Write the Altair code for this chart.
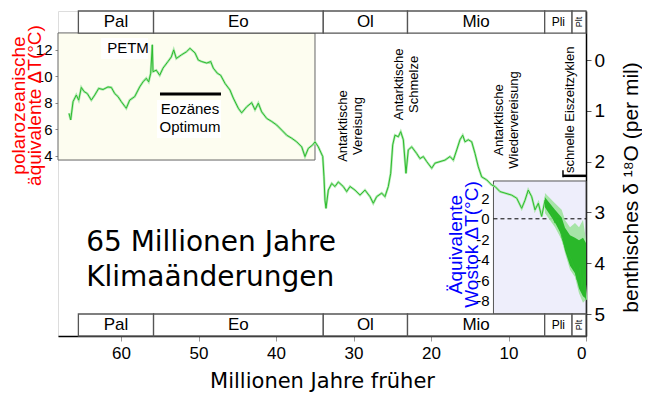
import altair as alt
import pandas as pd

# ---------------- data ----------------
# benthic d18O curve: age (Ma) and d18O (per mil)
ages = [66.71, 66.49, 66.19, 65.77, 65.46, 65.12, 64.77, 64.35, 63.83, 63.39,
        62.88, 62.32, 61.68, 61.25, 60.81, 60.39, 59.96, 59.52, 59.32, 58.88,
        58.23, 57.59, 57.16, 56.74, 56.43, 56.17, 55.96, 55.87, 55.45, 55.01,
        54.58, 53.94, 53.51, 53.20, 52.86, 52.22, 51.57, 51.10, 50.45, 50.03,
        49.59, 48.94, 48.43, 48.09, 47.57, 47.14, 46.58, 45.94, 45.51, 44.86,
        44.43, 43.78, 43.14, 42.71, 42.28, 41.85, 41.20, 40.55, 39.91, 39.26,
        38.62, 37.97, 37.33, 36.68, 36.26, 35.83, 35.26, 34.97, 34.54, 33.97,
        33.81, 33.68, 33.55, 33.25, 32.81, 32.39, 31.96, 31.32, 30.88, 30.45,
        29.81, 29.16, 28.52, 27.87, 27.45, 27.01, 26.36, 25.94, 25.51, 25.20,
        24.94, 24.65, 24.22, 23.91, 23.57, 23.23, 22.93, 22.49, 21.85, 21.42,
        20.99, 20.55, 19.91, 19.48, 18.84, 18.19, 17.55, 17.12, 16.68, 16.26,
        15.91, 15.61, 15.19, 14.75, 14.32, 13.90, 13.46, 12.81, 12.17, 11.74,
        11.10, 10.45, 9.59, 8.94, 8.30, 7.87, 7.45, 7.01, 6.58, 6.15,
        5.72, 5.29, 4.86, 4.43, 4.00, 3.57, 3.14, 2.71, 2.28, 1.85,
        1.42, 1.12, 0.77, 0.55, 0.26, 0.00]
d18o = [1.05, 1.18, 0.82, 0.69, 0.79, 0.54, 0.62, 0.66, 0.79, 0.69,
        0.56, 0.58, 0.53, 0.54, 0.66, 0.72, 0.82, 0.91, 0.95, 0.79,
        0.72, 0.53, 0.43, 0.36, 0.43, 0.26, -0.30, 0.23, 0.20, 0.30,
        0.16, 0.03, -0.06, -0.20, -0.03, -0.10, -0.16, -0.23, -0.14, 0.00,
        0.03, 0.06, 0.03, 0.16, 0.26, 0.30, 0.46, 0.59, 0.75, 0.95,
        1.04, 0.92, 0.84, 0.98, 0.85, 1.02, 1.15, 1.21, 1.28, 1.38,
        1.48, 1.54, 1.61, 1.71, 1.90, 1.74, 1.67, 1.61, 1.71, 1.90,
        2.30, 2.76, 2.92, 2.56, 2.43, 2.49, 2.40, 2.49, 2.59, 2.49,
        2.56, 2.66, 2.56, 2.69, 2.82, 2.69, 2.62, 2.69, 2.49, 2.23,
        1.67, 1.48, 1.51, 1.41, 1.57, 2.23, 1.77, 1.71, 1.84, 1.94,
        1.90, 2.00, 2.13, 2.03, 2.00, 1.97, 1.90, 1.97, 1.77, 1.57,
        1.48, 1.61, 1.57, 1.61, 1.84, 2.10, 2.30, 2.36, 2.46, 2.49,
        2.59, 2.62, 2.66, 2.72, 2.92, 2.76, 2.56, 2.69, 2.95, 2.82,
        3.08, 2.76, 2.95, 3.02, 3.21, 3.15, 3.48, 3.68, 3.81, 3.94,
        4.13, 4.33, 4.07, 4.46, 4.20, 4.72]

# spread of the recent, high-resolution record (outer light band / inner dark band)
band_age = [5.3, 4.0, 3.14, 2.71, 2.06, 1.42, 0.9, 0.39, 0.0]
band_outer_lo = [2.62, 2.82, 2.95, 3.15, 3.29, 3.21, 3.29, 3.15, 3.54]
band_outer_hi = [3.01, 3.29, 3.54, 3.80, 4.13, 4.27, 4.59, 4.78, 4.72]
band_inner_lo = [2.70, 2.95, 3.10, 3.30, 3.45, 3.50, 3.55, 3.50, 3.60]
band_inner_hi = [2.90, 3.20, 3.45, 3.75, 4.05, 4.20, 4.50, 4.65, 4.70]

# geological epochs (Ma)
epoch_names = ["Pal", "Eo", "Ol", "Mio", "Pli", "Plt"]
epoch_start = [65.5, 55.8, 33.9, 23.03, 5.33, 1.8]
epoch_end = [55.8, 33.9, 23.03, 5.33, 1.8, 0.0]

# annotations
note_text = ["Antarktische\nVereisung", "Antarktische\nSchmelze",
             "Antarktische\nWiedervereisung", "schnelle Eiszeitzyklen"]
note_age = [31.3, 24.19, 11.23, 2.06]
note_d18o = [1.30, 0.48, 1.18, 0.98]

big_text = ["65 Millionen Jahre", "Klimaänderungen"]
big_age = [64.5, 64.5]
big_d18o = [3.60, 4.29]

# ---------------- scales ----------------
X_SCALE = alt.Scale(domain=[0, 68.13], reverse=True, nice=False, zero=False)
D_SCALE = alt.Scale(domain=[-0.965, 5.433], reverse=True, nice=False, zero=False)
P_SCALE = alt.Scale(domain=[-9.65, 14.95], nice=False, zero=False)
W_SCALE = alt.Scale(domain=[-11.41, 20.23], nice=False, zero=False)
FONT = "Liberation Sans"
WIDE = "DejaVu Sans"

X_AXIS = alt.Axis(orient="bottom", values=[0, 10, 20, 30, 40, 50, 60], grid=False,
                  tickSize=5, tickColor="#999", domainColor="black", domainWidth=1.5,
                  labelFontSize=17, labelFont=FONT, labelColor="black", labelPadding=4,
                  title="Millionen Jahre früher", titleFontSize=21, titleFont=WIDE,
                  titleFontWeight="normal", titleColor="black", titleY=45,
                  titleBaseline="middle")

def X(field):
    return alt.X(f"{field}:Q", scale=X_SCALE, axis=X_AXIS)

def YD(field, axis=None):
    return alt.Y(f"{field}:Q", scale=D_SCALE, axis=axis)

# ---------------- tables ----------------
curve = pd.DataFrame({"ma": ages, "d": d18o})
band = pd.DataFrame({"ma": band_age, "olo": band_outer_lo, "ohi": band_outer_hi,
                     "ilo": band_inner_lo, "ihi": band_inner_hi})
mid = [(a + b) / 2 for a, b in zip(epoch_start, epoch_end)]
ep_top = pd.DataFrame({"x0": epoch_start, "x1": epoch_end, "y0": [-0.965] * 6,
                       "y1": [-0.531] * 6, "name": epoch_names, "mid": mid,
                       "ly": [-0.748] * 6})
ep_bot = pd.DataFrame({"x0": epoch_start, "x1": epoch_end, "y0": [5.0] * 6,
                       "y1": [5.433] * 6, "name": epoch_names, "mid": mid,
                       "ly": [5.217] * 6})
ep_all = pd.concat([ep_top, ep_bot])
ep_big = ep_all[ep_all["name"].isin(["Pal", "Eo", "Ol", "Mio"])]
ep_pli = ep_all[ep_all["name"] == "Pli"]
ep_plt = ep_all[ep_all["name"] == "Plt"]

polar_box = pd.DataFrame({"x0": [68.13], "x1": [34.97], "lo": [3.67], "hi": [13.29]})
wostok_box = pd.DataFrame({"x0": [11.94], "x1": [0.0], "lo": [-9.27], "hi": [3.68]})
wostok_zero = pd.DataFrame({"x0": [11.94], "x1": [0.0], "t": [0.0]})
white_boxes = pd.DataFrame({"x0": [62.56, 55.35], "x1": [56.52, 47.10],
                            "y0": [-0.433, 0.787], "y1": [-0.02, 1.535]})
optimum_bar = pd.DataFrame({"x0": [54.97], "x1": [47.10], "y": [0.67]})
small_labels = pd.DataFrame({"ma": [59.1, 51.1, 51.1], "d": [-0.24, 0.965, 1.32],
                             "t": ["PETM", "Eozänes", "Optimum"]})
notes = pd.DataFrame({"ma": note_age, "d": note_d18o, "t": note_text})
bigdf = pd.DataFrame({"ma": big_age, "d": big_d18o, "t": big_text})
bracket_h = pd.DataFrame({"x0": [2.97], "x1": [0.0], "y": [2.28]})
bracket_v = pd.DataFrame({"x": [2.97], "y0": [2.17], "y1": [2.31]})

# ---------------- layers ----------------
polar_axis = alt.Axis(orient="left", values=[4, 6, 8, 10, 12], domain=False,
                      ticks=True, tickSize=3, tickColor="#888", grid=False,
                      labelFontSize=15, labelFont=FONT, labelColor="black", labelPadding=3,
                      title=["polarozeanische", "äquivalente ΔT(°C)"],
                      titleColor="#ff0000", titleFontSize=19, titleFont=FONT,
                      titleFontWeight="normal", titleAngle=270, titleX=-40, titleY=94,
                      titleAlign="center", titleBaseline="middle", titleLineHeight=16)
polar_layer = alt.Chart(polar_box).mark_rect(fill="#fdfdf0", stroke="#666",
                                             strokeWidth=1).encode(
    x=X("x0"), x2="x1",
    y=alt.Y("lo:Q", scale=P_SCALE, axis=polar_axis), y2="hi")

wostok_axis = alt.Axis(orient="left", offset=-435, values=[-8, -6, -4, -2, 0, 2],
                       domain=False, ticks=False, grid=False, labelFontSize=15,
                       labelFont=FONT, labelColor="black", labelPadding=4,
                       labelExpr="'' + datum.value",
                       title=["Äquivalente", "Wostok ΔT(°C)"], titleColor="#0000ff",
                       titleFontSize=19, titleFont=FONT, titleFontWeight="normal",
                       titleAngle=270, titleX=-38, titleY=233, titleAlign="center",
                       titleBaseline="middle", titleLineHeight=16)
wostok_layer = alt.Chart(wostok_box).mark_rect(fill="#eeeefb", stroke="#555",
                                               strokeWidth=1).encode(
    x=X("x0"), x2="x1",
    y=alt.Y("lo:Q", scale=W_SCALE, axis=wostok_axis), y2="hi")
wostok_zero_layer = alt.Chart(wostok_zero).mark_rule(color="black", strokeDash=[4, 3],
                                                     strokeWidth=1).encode(
    x=X("x0"), x2="x1", y=alt.Y("t:Q", scale=W_SCALE, axis=None))

ep_rects = alt.Chart(ep_all).mark_rect(fill="white", stroke="#555", strokeWidth=1.3).encode(
    x=X("x0"), x2="x1", y=YD("y0"), y2="y1")
ep_text_big = alt.Chart(ep_big).mark_text(fontSize=17, font=FONT, color="black",
                                          baseline="middle").encode(
    x=X("mid"), y=YD("ly"), text="name:N")
ep_text_pli = alt.Chart(ep_pli).mark_text(fontSize=12, font=FONT, color="black",
                                          baseline="middle").encode(
    x=X("mid"), y=YD("ly"), text="name:N")
ep_text_plt = alt.Chart(ep_plt).mark_text(fontSize=9, font=FONT, color="black",
                                          baseline="middle", angle=270).encode(
    x=X("mid"), y=YD("ly"), text="name:N")

white_layer = alt.Chart(white_boxes).mark_rect(fill="white").encode(
    x=X("x0"), x2="x1", y=YD("y0"), y2="y1")
bar_layer = alt.Chart(optimum_bar).mark_rule(color="black", strokeWidth=3).encode(
    x=X("x0"), x2="x1", y=YD("y"))

outer_band = alt.Chart(band).mark_area(color="#9ee29e", opacity=0.9).encode(
    x=X("ma"), y=YD("olo"), y2="ohi")
inner_band = alt.Chart(band).mark_area(color="#14b014", opacity=0.85).encode(
    x=X("ma"), y=YD("ilo"), y2="ihi")

d_axis = alt.Axis(orient="right", values=[0, 1, 2, 3, 4, 5], grid=False, tickSize=5,
                  tickColor="#555", domainColor="black", domainWidth=1.5,
                  labelFontSize=19, labelFont=FONT, labelColor="black", labelPadding=3,
                  title="benthisches δ ¹⁸O (per mil)", titleFontSize=21, titleFont=FONT,
                  titleFontWeight="normal", titleColor="black", titleAngle=270,
                  titleX=45, titleY=176, titleAlign="center", titleBaseline="middle")

glow = alt.Chart(curve).mark_line(color="#aee8ae", strokeWidth=2.4).encode(
    x=X("ma"), y=YD("d"))
line = alt.Chart(curve).mark_line(color="#2dbb2d", strokeWidth=1).encode(
    x=X("ma"), y=YD("d", axis=d_axis))

notes_layer = alt.Chart(notes).mark_text(fontSize=13, font=FONT, color="black",
                                         angle=270, align="center", baseline="middle",
                                         lineBreak="\n", lineHeight=15).encode(
    x=X("ma"), y=YD("d"), text="t:N")
small_layer = alt.Chart(small_labels).mark_text(fontSize=15, font=FONT, color="black",
                                                baseline="middle").encode(
    x=X("ma"), y=YD("d"), text="t:N")
big_layer = alt.Chart(bigdf).mark_text(fontSize=28, font=WIDE, color="black",
                                       align="left", baseline="middle").encode(
    x=X("ma"), y=YD("d"), text="t:N")
bracket1 = alt.Chart(bracket_h).mark_rule(color="black", strokeWidth=2.5).encode(
    x=X("x0"), x2="x1", y=YD("y"))
bracket2 = alt.Chart(bracket_v).mark_rule(color="black", strokeWidth=1.5).encode(
    x=X("x"), y=YD("y0"), y2="y1")

chart = alt.layer(
    polar_layer, wostok_layer, wostok_zero_layer, ep_rects, ep_text_big, ep_text_pli,
    ep_text_plt, white_layer, bar_layer, glow, outer_band, inner_band, line,
    notes_layer, small_layer, big_layer, bracket1, bracket2
).resolve_scale(y="independent").properties(
    width=528, height=325,
    autosize=alt.AutoSizeParams(type="none"),
    padding={"left": 50, "top": 3, "right": 56, "bottom": 58},
).configure_view(stroke="#666", strokeWidth=1.5).configure(background="white")

chart.save("out.html", embed_options={"renderer": "svg", "actions": False})
